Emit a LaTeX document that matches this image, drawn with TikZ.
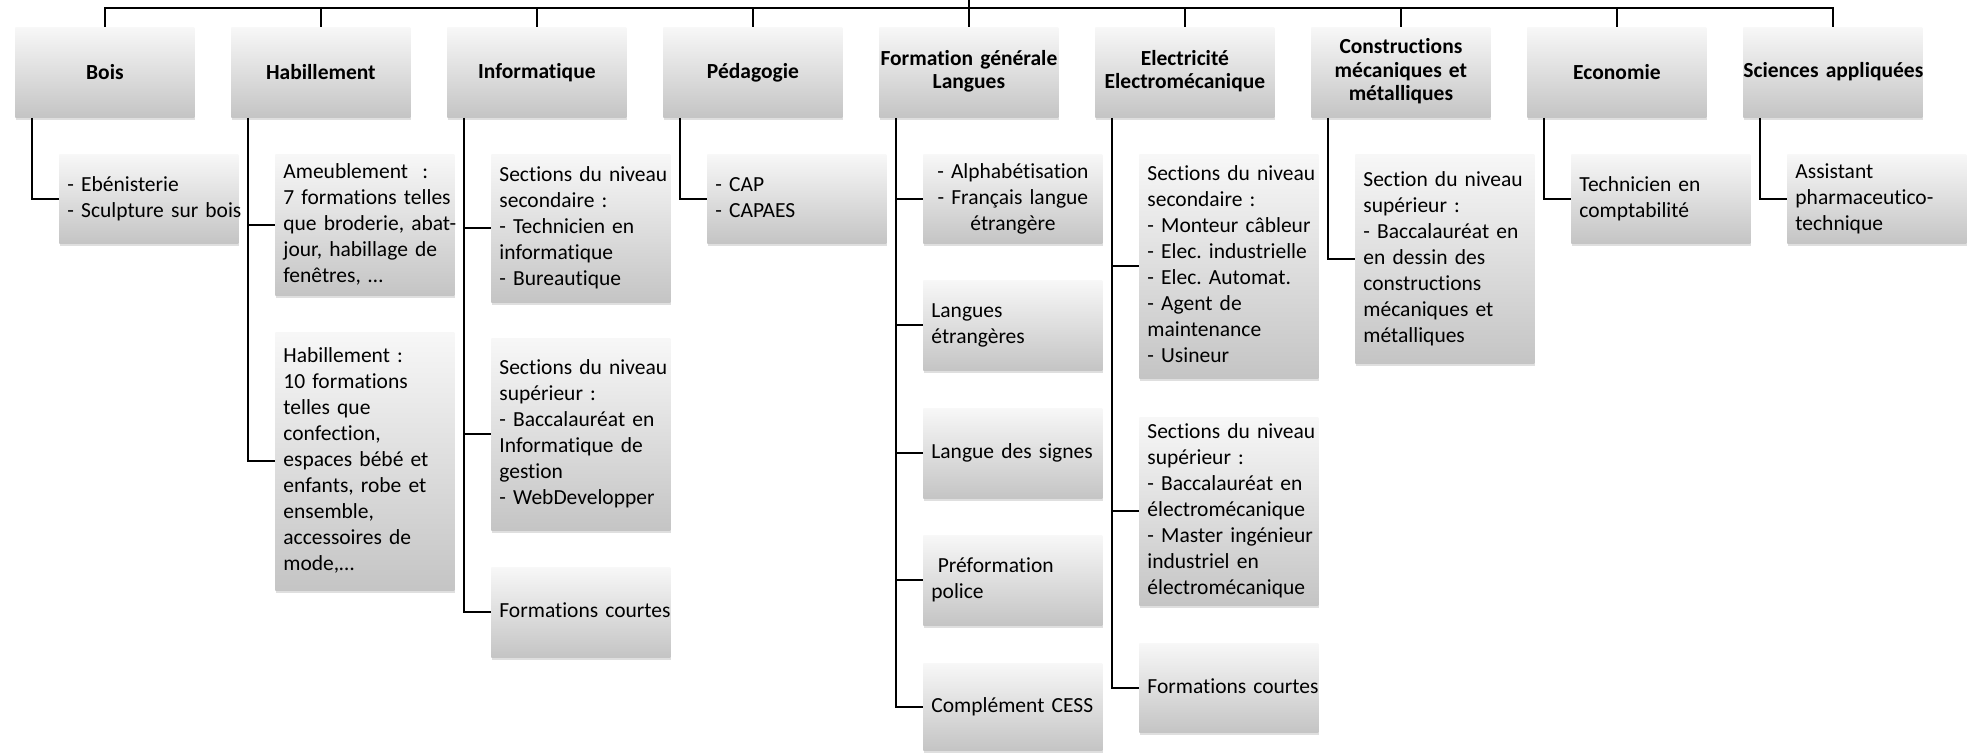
\documentclass[tikz,border=0pt]{standalone}
\usepackage{fontspec}
\setmainfont{Carlito}[Ligatures={TeX,NoCommon}]
\usetikzlibrary{shadows}
\frenchspacing
\newcommand\boxlines[1]{\begin{tabular}{@{}l@{}}#1\end{tabular}}
\newcommand\boxlinesc[1]{\begin{tabular}{@{}c@{}}#1\end{tabular}}
\begin{document}
\begin{tikzpicture}[x=0.5pt,y=-0.5pt,
  conn/.style={line width=1pt,draw=black},
  boxfill/.style={top color=black!3,bottom color=black!23,
    drop shadow={shadow xshift=0.4pt,shadow yshift=-1.5pt,opacity=0.25}},
  headbox/.style={boxfill,anchor=north west,minimum width=89.5pt,minimum height=45pt,
    text width=89.5pt,inner sep=0pt,align=center,
    font=\fontsize{10.75pt}{11.7pt}\selectfont\bfseries},
  subbox/.style={boxfill,anchor=north west,minimum width=89.5pt,
    text width=81.5pt,inner xsep=4pt,inner ysep=0pt,align=left,
    font=\fontsize{10.75pt}{13pt}\selectfont},
  ht/.style={minimum height=#1*0.5pt}
]
\useasboundingbox (0,0) rectangle (1973,753);

% level 1
\node[headbox] (hBois) at (15,27) {Bois};
\node[headbox] (hHab) at (231,27) {Habillement};
\node[headbox] (hInf) at (447,27) {Informatique};
\node[headbox] (hPed) at (663,27) {Pédagogie};
\node[headbox] (hFor) at (879,27) {\boxlinesc{Formation générale\\Langues}};
\node[headbox] (hEle) at (1095,27) {\boxlinesc{Electricité\\Electromécanique}};
\node[headbox] (hCon) at (1311,27) {\boxlinesc{Constructions\\mécaniques et\\métalliques}};
\node[headbox] (hEco) at (1527,27) {Economie};
\node[headbox] (hSci) at (1743,27) {\boxlinesc{Sciences appliquées}};

% level 2
\node[subbox,ht=89] (cBois) at (59,154) {\boxlines{- Ebénisterie\\- Sculpture sur bois}};
\node[subbox,ht=141] (cHab1) at (275,154) {\boxlines{Ameublement\ \ :\\7 formations telles\\que broderie, abat-\\jour, habillage de\\fenêtres, …}};
\node[subbox,ht=258] (cHab2) at (275,332) {\boxlines{Habillement :\\10 formations\\telles que\\confection,\\espaces bébé et\\enfants, robe et\\ensemble,\\accessoires de\\mode,…}};
\node[subbox,ht=148] (cInf1) at (491,154) {\boxlines{Sections du niveau\\secondaire :\\- Technicien en\\informatique\\- Bureautique}};
\node[subbox,ht=192] (cInf2) at (491,338) {\boxlines{Sections du niveau\\supérieur :\\- Baccalauréat en\\Informatique de\\gestion\\- WebDevelopper}};
\node[subbox,ht=90,align=center] (cInf3) at (491,567) {\boxlinesc{Formations courtes}};
\node[subbox,ht=89] (cPed) at (707,154) {\boxlines{- CAP\\- CAPAES}};
\node[subbox,ht=89,align=center] (cFor1) at (923,154) {\boxlinesc{- Alphabétisation\\- Français langue\\étrangère}};
\node[subbox,ht=90] (cFor2) at (923,280) {\boxlines{Langues\\étrangères}};
\node[subbox,ht=90] (cFor3) at (923,408) {\boxlines{Langue des signes}};
\node[subbox,ht=90] (cFor4) at (923,535) {\boxlines{\hspace{0.3em}Préformation\\police}};
\node[subbox,ht=87] (cFor5) at (923,663) {\boxlines{Complément CESS}};
\node[subbox,ht=224] (cEle1) at (1139,154) {\boxlines{Sections du niveau\\secondaire :\\- Monteur câbleur\\- Elec. industrielle\\- Elec. Automat.\\- Agent de\\maintenance\\- Usineur}};
\node[subbox,ht=188] (cEle2) at (1139,417) {\boxlines{Sections du niveau\\supérieur :\\- Baccalauréat en\\électromécanique\\- Master ingénieur\\industriel en\\électromécanique}};
\node[subbox,ht=89,align=center] (cEle3) at (1139,643) {\boxlinesc{Formations courtes}};
\node[subbox,ht=209] (cCon) at (1355,154) {\boxlines{Section du niveau\\supérieur :\\- Baccalauréat en\\en dessin des\\constructions\\mécaniques et\\métalliques}};
\node[subbox,ht=89] (cEco) at (1571,154) {\boxlines{Technicien en\\comptabilité}};
\node[subbox,ht=89] (cSci) at (1787,154) {\boxlines{Assistant\\pharmaceutico-\\technique}};

% top connectors
\coordinate (root) at (968,0);
\coordinate (bar) at (968,8);
\draw[conn] (hFor.north) -- (hFor.north |- root);
\draw[conn] (hBois.north) -- (hBois.north |- bar) -- (hSci.north |- bar) -- (hSci.north);
\foreach \h in {hHab,hInf,hPed,hEle,hCon,hEco}
  \draw[conn] (\h.north) -- (\h.north |- bar);

% branch coordinates
\foreach \h in {hBois,hHab,hInf,hPed,hFor,hEle,hCon,hEco,hSci}
  \coordinate (v\h) at ([xshift=8.5pt]\h.south west);

\draw[conn] (vhBois) |- (cBois.west);
\draw[conn] (vhHab) |- (cHab2.west);
\draw[conn] (vhHab |- cHab1.west) -- (cHab1.west);
\draw[conn] (vhInf) |- (cInf3.west);
\draw[conn] (vhInf |- cInf1.west) -- (cInf1.west);
\draw[conn] (vhInf |- cInf2.west) -- (cInf2.west);
\draw[conn] (vhPed) |- (cPed.west);
\draw[conn] (vhFor) |- (cFor5.west);
\draw[conn] (vhFor |- cFor1.west) -- (cFor1.west);
\draw[conn] (vhFor |- cFor2.west) -- (cFor2.west);
\draw[conn] (vhFor |- cFor3.west) -- (cFor3.west);
\draw[conn] (vhFor |- cFor4.west) -- (cFor4.west);
\draw[conn] (vhEle) |- (cEle3.west);
\draw[conn] (vhEle |- cEle1.west) -- (cEle1.west);
\draw[conn] (vhEle |- cEle2.west) -- (cEle2.west);
\draw[conn] (vhCon) |- (cCon.west);
\draw[conn] (vhEco) |- (cEco.west);
\draw[conn] (vhSci) |- (cSci.west);
\end{tikzpicture}
\end{document}
